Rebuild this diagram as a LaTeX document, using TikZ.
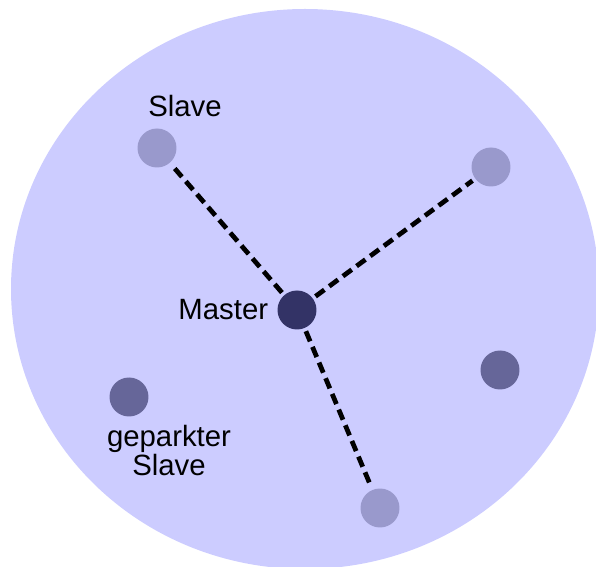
\documentclass[tikz,border=0pt]{standalone}
\usepackage{fontspec}
\setmainfont{Liberation Sans}
\usepackage{xcolor}
\usetikzlibrary{positioning}
\definecolor{cellfill}{HTML}{CCCCFF}
\definecolor{slavecol}{HTML}{9999CC}
\definecolor{parkcol}{HTML}{666699}
\definecolor{mastercol}{HTML}{333366}
\tikzstyle{dev} = [circle, minimum size=0.78cm, inner sep=0pt, outer sep=2pt, draw=none]
\tikzstyle{slave} = [dev, fill=slavecol]
\tikzstyle{parked} = [dev, fill=parkcol]
\tikzstyle{master} = [dev, fill=mastercol]
\tikzstyle{lbl} = [inner sep=0pt, align=center, font=\fontsize{16.7}{16.5}\selectfont]
\tikzstyle{link} = [line width=2.7pt, dash pattern=on 0.22cm off 0.12cm]

\begin{document}
\begin{tikzpicture}[x=0.02cm, y=-0.02cm]
  \useasboundingbox (0,0) rectangle (596,567);
  \clip (0,0) rectangle (596,567);
  % Piconet
  \fill[cellfill] (305,289) ellipse [x radius=294, y radius=280];

  % Devices
  \node[master] (m) at (297,310) {};
  \node[slave] (s1) at (157,148) {};
  \node[slave] (s2) at (491,167) {};
  \node[slave] (s3) at (380,508) {};
  \node[parked] (p1) at (129,397) {};
  \node[parked] (p2) at (500,370) {};

  % Labels
  \node[lbl] (s1lbl) at (185,106) {Slave};
  \node[lbl, left=0.11cm of m] (mlbl) {Master};
  \node[lbl, anchor=north] (p1lbl) at (169,425) {geparkter\\Slave};

  % Links
  \draw[link] (m) -- (s1);
  \draw[link] (m) -- (s2);
  \draw[link] (m) -- (s3);
\end{tikzpicture}
\end{document}
